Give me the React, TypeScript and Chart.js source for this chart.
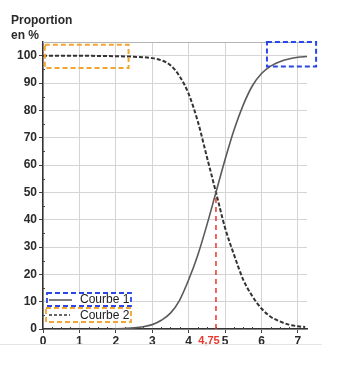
import React, { useEffect, useRef } from "react";
import { Chart, registerables } from "chart.js";

Chart.register(...registerables);

const curve1X = [1.9, 2.25, 2.5, 2.75, 3, 3.25, 3.5, 3.75, 4, 4.25, 4.5, 4.75, 5, 5.25, 5.5, 5.75, 6, 6.25, 6.5, 6.75, 7, 7.25];
const curve1Y = [0, 0.2, 0.4, 0.8, 1.6, 3.2, 5.8, 10.5, 18, 27, 38, 50, 62, 73, 82, 89, 93.5, 96.2, 97.8, 98.8, 99.4, 99.7];
const curve2X = [0, 0.5, 1, 1.5, 2, 2.5, 3, 3.25, 3.5, 3.75, 4, 4.25, 4.5, 4.75, 5, 5.25, 5.5, 5.75, 6, 6.25, 6.5, 6.75, 7, 7.2];
const curve2Y = [100, 100, 100, 99.9, 99.8, 99.6, 99.1, 98.3, 96.5, 92.5, 86, 76, 63, 50, 37, 27, 18, 12, 7.5, 4.5, 2.8, 1.6, 1, 0.7];
const seriesNames = ["Courbe 1", "Courbe 2"];
const xTicks = [0, 1, 2, 3, 4, 5, 6, 7];
const yTicks = [0, 10, 20, 30, 40, 50, 60, 70, 80, 90, 100];
const crossX = 4.75;
const crossY = 50;
const crossLabel = "4,75";
const axisTitle = ["Proportion", "en %"];
const xMax = 7.25;
const yMax = 105;
const orangeBox = { x0: 0.05, x1: 2.35, y0: 95.5, y1: 104 };
const blueBox = { x0: 6.15, x1: 7.5, y0: 96, y1: 105 };

const BLUE = "#2946e6";
const ORANGE = "#f2a531";
const RED = "#e8372b";
const FONT = "'Liberation Sans', Arial, sans-serif";

const overlay = {
  id: "overlay",
  beforeDatasetsDraw(chart: any) {
    const { ctx, chartArea } = chart;
    const x = chart.scales.x;
    const y = chart.scales.y;
    ctx.save();
    ctx.strokeStyle = "#b5b5b5";
    ctx.lineWidth = 1;
    ctx.beginPath();
    ctx.moveTo(chartArea.left, chartArea.top + 0.5);
    ctx.lineTo(chartArea.right, chartArea.top + 0.5);
    ctx.stroke();
    ctx.strokeStyle = "#444";
    ctx.beginPath();
    for (let v = 0.25; v < xMax; v += 0.25) {
      if (Math.abs(v - Math.round(v)) < 1e-6) continue;
      const px = Math.round(x.getPixelForValue(v)) + 0.5;
      ctx.moveTo(px, chartArea.bottom);
      ctx.lineTo(px, chartArea.bottom - 2);
    }
    for (let v = 5; v < 100; v += 10) {
      const py = Math.round(y.getPixelForValue(v)) + 0.5;
      ctx.moveTo(chartArea.left, py);
      ctx.lineTo(chartArea.left + 2, py);
    }
    ctx.stroke();
    ctx.strokeStyle = RED;
    ctx.lineWidth = 1.5;
    ctx.setLineDash([5, 4]);
    ctx.beginPath();
    const rx = x.getPixelForValue(crossX);
    ctx.moveTo(rx, y.getPixelForValue(0));
    ctx.lineTo(rx, y.getPixelForValue(crossY));
    ctx.stroke();
    ctx.restore();
  },
  afterDraw(chart: any) {
    const { ctx, chartArea } = chart;
    const x = chart.scales.x;
    const y = chart.scales.y;
    ctx.save();
    ctx.fillStyle = "#2a2a2a";
    ctx.font = `bold 12px ${FONT}`;
    ctx.textAlign = "left";
    ctx.textBaseline = "middle";
    ctx.fillText(axisTitle[0], 11, 21);
    ctx.fillText(axisTitle[1], 11, 36);
    ctx.fillStyle = RED;
    ctx.font = `bold 11px ${FONT}`;
    ctx.textAlign = "center";
    ctx.fillText(crossLabel, x.getPixelForValue(crossX) - 7, chartArea.bottom + 12);
    const box = (b: any, color: string) => {
      ctx.strokeStyle = color;
      ctx.lineWidth = 2;
      ctx.setLineDash([5, 3]);
      const l = x.getPixelForValue(b.x0), r = x.getPixelForValue(b.x1);
      const t = y.getPixelForValue(b.y1), bt = y.getPixelForValue(b.y0);
      ctx.strokeRect(l, t, r - l, bt - t);
    };
    box(orangeBox, ORANGE);
    box(blueBox, BLUE);
    const lx = chartArea.left + 4;
    const ly1 = chartArea.bottom - 29;
    const ly2 = chartArea.bottom - 14;
    ctx.fillStyle = "#fff";
    ctx.fillRect(lx, ly1 - 7, 84, 29);
    ctx.setLineDash([5, 3]);
    ctx.lineWidth = 1.8;
    ctx.strokeStyle = BLUE;
    ctx.strokeRect(lx, ly1 - 7, 84, 13);
    ctx.strokeStyle = ORANGE;
    ctx.strokeRect(lx - 1, ly2 - 7, 85, 14);
    ctx.setLineDash([]);
    ctx.strokeStyle = "#555";
    ctx.lineWidth = 1.5;
    ctx.beginPath();
    ctx.moveTo(lx + 2, ly1);
    ctx.lineTo(lx + 25, ly1);
    ctx.stroke();
    ctx.strokeStyle = "#333";
    ctx.setLineDash([3, 2]);
    ctx.beginPath();
    ctx.moveTo(lx + 2, ly2);
    ctx.lineTo(lx + 23, ly2);
    ctx.stroke();
    ctx.setLineDash([]);
    ctx.fillStyle = "#222";
    ctx.font = `12px ${FONT}`;
    ctx.textAlign = "left";
    ctx.fillText(seriesNames[0], lx + 33, ly1);
    ctx.fillText(seriesNames[1], lx + 33, ly2 + 1);
    ctx.strokeStyle = "#e4e4e4";
    ctx.lineWidth = 1;
    ctx.beginPath();
    ctx.moveTo(0, 344.5);
    ctx.lineTo(322, 344.5);
    ctx.stroke();
    ctx.restore();
  },
};

export default function App() {
  const ref = useRef<HTMLCanvasElement>(null);
  useEffect(() => {
    const canvas = ref.current!;
    const chart = new Chart(canvas, {
      type: "line",
      data: {
        datasets: [
          {
            label: seriesNames[0],
            data: curve1X.map((v, i) => ({ x: v, y: curve1Y[i] })),
            borderColor: "#5a5a5a",
            borderWidth: 1.6,
            pointRadius: 0,
            cubicInterpolationMode: "monotone",
            fill: false,
          },
          {
            label: seriesNames[1],
            data: curve2X.map((v, i) => ({ x: v, y: curve2Y[i] })),
            borderColor: "#333",
            borderWidth: 2,
            borderDash: [4, 2],
            pointRadius: 0,
            cubicInterpolationMode: "monotone",
            fill: false,
          },
        ],
      },
      options: {
        responsive: false,
        animation: false,
        layout: { padding: { top: 42, right: 33, left: 0, bottom: 0 } },
        plugins: { legend: { display: false }, tooltip: { enabled: false } },
        scales: {
          x: {
            type: "linear",
            min: 0,
            max: xMax,
            afterBuildTicks: (s: any) => {
              s.ticks = xTicks.map((v) => ({ value: v }));
            },
            afterFit: (s: any) => {
              s.height = 47;
            },
            ticks: { stepSize: 1, autoSkip: false, maxRotation: 0, color: "#2a2a2a", font: { family: FONT, size: 12, weight: "bold" }, padding: 1 },
            grid: { color: "#d4d4d4", tickColor: "#444", tickLength: 4 },
            border: { color: "#333", width: 1.5 },
          },
          y: {
            type: "linear",
            min: 0,
            max: yMax,
            afterBuildTicks: (s: any) => {
              s.ticks = yTicks.map((v) => ({ value: v }));
            },
            afterFit: (s: any) => {
              s.width = 43;
            },
            ticks: { stepSize: 10, autoSkip: false, color: "#2a2a2a", font: { family: FONT, size: 12, weight: "bold" }, padding: 2 },
            grid: { color: "#d4d4d4", tickColor: "#444", tickLength: 4 },
            border: { color: "#333", width: 1.5 },
          },
        },
      },
      plugins: [overlay],
    } as any);
    return () => chart.destroy();
  }, []);
  return (
    <div style={{ position: "fixed", left: 0, top: 0, width: 340, height: 376, background: "#fff" }}>
      <canvas ref={ref} width={340} height={376} style={{ width: 340, height: 376, display: "block" }} />
    </div>
  );
}
